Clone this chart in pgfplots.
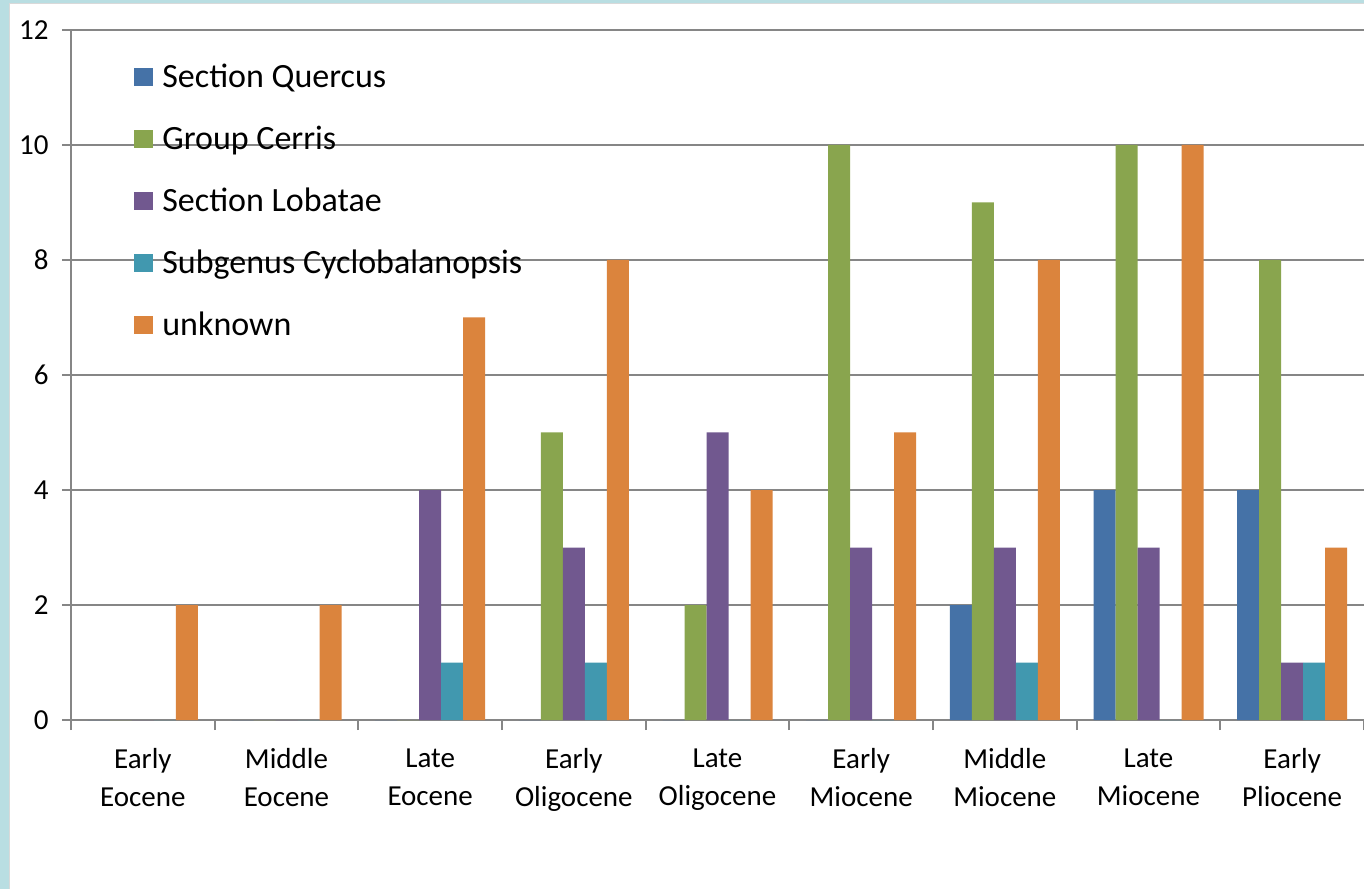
\documentclass[border=0pt]{standalone}
\usepackage{pgfplots}
\pgfplotsset{compat=1.18}
\usepackage{fontspec}
\setmainfont{Carlito}
\definecolor{bgcyan}{RGB}{185,222,226}
\definecolor{cQ}{RGB}{69,114,167}
\definecolor{cC}{RGB}{137,165,78}
\definecolor{cL}{RGB}{113,88,143}
\definecolor{cY}{RGB}{65,152,175}
\definecolor{cU}{RGB}{219,132,61}
\definecolor{gridgray}{RGB}{134,134,134}
\newcommand{\lsq}[1]{\textcolor{#1}{\rule[0.6pt]{9.5pt}{9pt}}\hspace{4.5pt}}
\begin{document}
\begin{tikzpicture}
\fill[bgcyan] (0,0) rectangle (682pt,444.5pt);
\fill[white] (4.5pt,0) rectangle (682pt,442.5pt);
\draw[black!15, line width=0.5pt] (4.5pt,0) -- (4.5pt,442.5pt) -- (682pt,442.5pt);
\begin{axis}[
  at={(35.5pt,84.5pt)}, anchor=south west,
  scale only axis, width=646.5pt, height=345pt,
  xmin=-0.5, xmax=8.5, ymin=0, ymax=12,
  axis x line=bottom, axis y line=left,
  axis line style={-, gridgray, line width=1pt},
  ytick={0,2,...,12},
  xtick={0,...,8},
  xticklabels={{Early\\Eocene},{Middle\\Eocene},{Late\\Eocene},{Early\\Oligocene},{Late\\Oligocene},{Early\\Miocene},{Middle\\Miocene},{Late\\Miocene},{Early\\Pliocene}},
  minor xtick={-0.5,0.5,...,8.5},
  tick align=outside,
  major tick length=4.5pt,
  minor tick length=5pt,
  tick style={gridgray, line width=1pt},
  major x tick style={draw=none},
  ymajorgrids,
  major grid style={gridgray, line width=1pt},
  /pgf/number format/assume math mode=true,
  yticklabel style={font=\fontsize{14.5pt}{18pt}\selectfont, anchor=east, inner sep=0pt, xshift=-6.5pt},
  xticklabel style={font=\fontsize{14.5pt}{19pt}\selectfont, align=center, anchor=north, inner sep=0pt, yshift=-9.5pt},
  ybar=0pt, bar width=11pt,
  legend cell align=left,
  legend style={draw=none, fill=none, at={(0.0487,0.9526)}, anchor=north west,
    inner sep=0pt, row sep=15pt, column sep=0pt,
    font=\fontsize{17pt}{20pt}\selectfont,
    cells={anchor=base west},
    nodes={inner sep=0pt, text height=12pt, text depth=4pt}},
  legend image code/.code={\path (0pt,0pt);},
]
\addplot[fill=cQ, draw=none] coordinates {(0,0)(1,0)(2,0)(3,0)(4,0)(5,0)(6,2)(7,4)(8,4)};
\addplot[fill=cC, draw=none] coordinates {(0,0)(1,0)(2,0)(3,5)(4,2)(5,10)(6,9)(7,10)(8,8)};
\addplot[fill=cL, draw=none] coordinates {(0,0)(1,0)(2,4)(3,3)(4,5)(5,3)(6,3)(7,3)(8,1)};
\addplot[fill=cY, draw=none] coordinates {(0,0)(1,0)(2,1)(3,1)(4,0)(5,0)(6,1)(7,0)(8,1)};
\addplot[fill=cU, draw=none] coordinates {(0,2)(1,2)(2,7)(3,8)(4,4)(5,5)(6,8)(7,10)(8,3)};
\legend{\lsq{cQ}Section Quercus, \lsq{cC}Group Cerris, \lsq{cL}Section Lobatae, \lsq{cY}Subgenus Cyclobalanopsis, \lsq{cU}unknown}
\end{axis}
\pgfresetboundingbox
\path[use as bounding box] (0,0) rectangle (682pt,444.5pt);
\end{tikzpicture}
\end{document}
